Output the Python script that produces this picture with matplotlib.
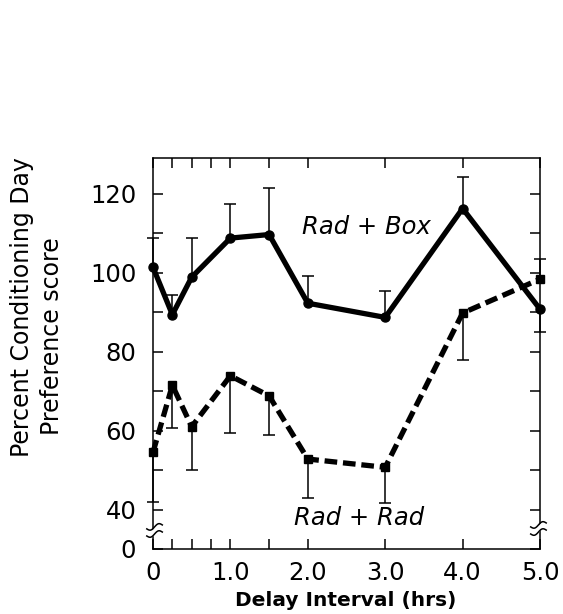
import numpy as np
import matplotlib
matplotlib.use("Agg")
import matplotlib.pyplot as plt

plt.rcParams['font.family'] = ['DejaVu Sans']

# Delay interval (hrs)
delay_hrs = [0, 0.25, 0.5, 1.0, 1.5, 2.0, 3.0, 4.0, 5.0]

# Rad + Box (circles, solid line); error bars mostly drawn upward
box_score = [101.4, 89.4, 98.9, 108.8, 109.7, 92.3, 88.7, 116.3, 90.8]
box_err_lo = [np.nan] * 8 + [5.9]
box_err_hi = [7.4, 5.1, 9.9, 8.6, 11.8, 7.0, 6.8, 8.0, np.nan]

# Rad + Rad (squares, dashed line); error bars mostly drawn downward
rad_score = [54.5, 71.5, 61.0, 73.9, 68.8, 52.8, 50.7, 89.8, 98.4]
rad_err_lo = [12.7, 10.8, 10.9, 14.5, 9.9, 9.9, 9.1, 11.9, np.nan]
rad_err_hi = [np.nan] * 8 + [5.0]

# axis: broken between 0 and 40, the "0" sits one minor step below 40
y_break_pos = 30
y_major = [30, 40, 60, 80, 100, 120]
y_major_labels = ['0', '40', '60', '80', '100', '120']
y_minor = [50, 70, 90, 110]
x_major = [0, 1, 2, 3, 4, 5]
x_major_labels = ['0', '1.0', '2.0', '3.0', '4.0', '5.0']
x_minor = [0.25, 0.5, 0.75, 1.5]


def one_sided_errorbar(ax, x, y, lo, hi):
    """Error bars where each point only has a bar on one side."""
    lo = np.array(lo, dtype=float)
    hi = np.array(hi, dtype=float)
    _, caps, _ = ax.errorbar(x, y, yerr=[np.nan_to_num(lo), np.nan_to_num(hi)],
                             fmt='none', ecolor='black', elinewidth=1.1,
                             capsize=4.3, capthick=1.1, clip_on=False)
    # caps: [lower, upper]; hide the caps of the missing side
    for cap, err in zip(caps, (lo, hi)):
        yd = np.array(cap.get_ydata(), dtype=float)
        yd[np.isnan(err)] = np.nan
        cap.set_ydata(yd)
        cap.set_clip_on(False)


def axis_break(ax, x0, y0):
    """Draw a small '≈' break mark across a vertical spine."""
    t = np.linspace(-1, 1, 40)
    xs = x0 + 0.1 * t
    wave = 0.55 * np.sin(np.pi * t) + 0.5 * t
    lower = y0 - 0.9 + wave
    upper = y0 + 0.9 + wave
    ax.fill_between(xs, lower, upper, color='white', lw=0, zorder=5, clip_on=False)
    ax.plot(xs, lower, color='black', lw=1.1, zorder=6, clip_on=False)
    ax.plot(xs, upper, color='black', lw=1.1, zorder=6, clip_on=False)


fig = plt.figure(figsize=(5.63, 6.14), dpi=100)
ax = fig.add_axes([153 / 563, 1 - 549 / 614, (540 - 153) / 563, (549 - 158) / 614])

one_sided_errorbar(ax, delay_hrs, box_score, box_err_lo, box_err_hi)
one_sided_errorbar(ax, delay_hrs, rad_score, rad_err_lo, rad_err_hi)

ax.plot(delay_hrs, box_score, color='black', lw=3.8, marker='o', markersize=6.5,
        solid_capstyle='round', clip_on=False, zorder=4)
ax.plot(delay_hrs, rad_score, color='black', lw=3.8, marker='s', markersize=6,
        linestyle=(0, (2.4, 1.1)), clip_on=False, zorder=4)

ax.text(2.76, 111.7, 'Rad + Box', style='italic', fontsize=17.5, ha='center', va='center')
ax.text(2.66, 37.9, 'Rad + Rad', style='italic', fontsize=17.5, ha='center', va='center')

axis_break(ax, 0.02, 34.7)
axis_break(ax, 4.98, 35.2)

ax.set_xlim(0, 5)
ax.set_ylim(y_break_pos, 129.1)
ax.set_xticks(x_major)
ax.set_xticklabels(x_major_labels)
ax.set_xticks(x_minor, minor=True)
ax.set_yticks(y_major)
ax.set_yticklabels(y_major_labels)
ax.set_yticks(y_minor, minor=True)

for sp in ax.spines.values():
    sp.set_linewidth(1.1)
ax.tick_params(which='both', direction='in', length=7, width=1.1,
               top=True, right=True, labelsize=17.5)
ax.tick_params(axis='y', pad=12)
ax.tick_params(axis='x', pad=9)

fig.text(22 / 563, 1 - 307 / 614, 'Percent Conditioning Day', rotation=90,
         ha='center', va='center', fontsize=17)
fig.text(52 / 563, 1 - 336 / 614, 'Preference score', rotation=90,
         ha='center', va='center', fontsize=17)
fig.text(346 / 563, 1 - 601 / 614, 'Delay Interval (hrs)', fontweight='bold',
         ha='center', va='center', fontsize=14.5)

fig.savefig('out.png', dpi=100)
